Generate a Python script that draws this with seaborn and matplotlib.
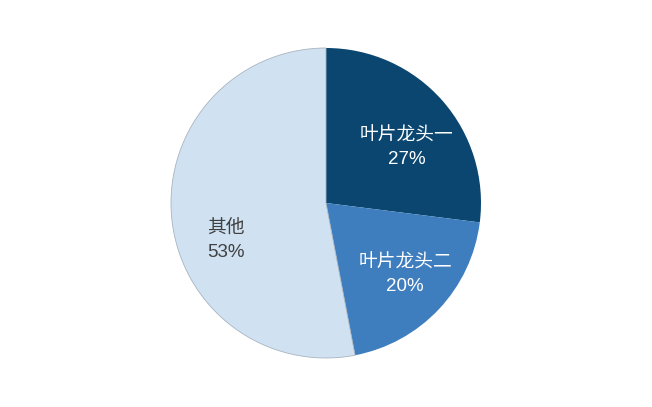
import matplotlib
matplotlib.use("Agg")
import matplotlib.pyplot as plt
import seaborn as sns
import numpy as np

names = ["叶片龙头一", "叶片龙头二", "其他"]
shares = [27, 20, 53]
colors = ["#0A4670", "#3F7EBE", "#D0E2F2"]
text_colors = ["white", "white", "#404040"]
# label placement: radial distance and angle shift from wedge middle (Excel "best fit" look)
label_dist = [0.63, 0.69, 0.69]
label_shift = [-7, 1, 15]

sns.set_theme(style="white")
plt.rcParams['font.family'] = ['Liberation Sans', 'Noto Sans CJK SC', 'DejaVu Sans']

fig = plt.figure(figsize=(6.52, 4.07), dpi=100)
ax = fig.add_axes([171 / 652, 49 / 407, 310 / 652, 310 / 407])

labels = [f"{n}\n{s}%" for n, s in zip(names, shares)]
wedges, texts = ax.pie(shares, colors=colors, startangle=90, counterclock=False,
                       labels=labels, labeldistance=0.66, radius=1,
                       wedgeprops=dict(linewidth=0))
wedges[2].set_edgecolor("#A8B4C0")
wedges[2].set_linewidth(0.6)
for w, t, c, d, s in zip(wedges, texts, text_colors, label_dist, label_shift):
    ang = np.deg2rad((w.theta1 + w.theta2) / 2 + s)
    t.set_position((d * np.cos(ang), d * np.sin(ang)))
    t.set_color(c)
    t.set_fontsize(13.5)
    t.set_ha("center")
    t.set_va("center")
    t.set_linespacing(1.5)
ax.set_xlim(-1, 1)
ax.set_ylim(-1, 1)
ax.set_aspect("equal")
ax.axis("off")

fig.savefig("out.png", dpi=100, facecolor="white")
